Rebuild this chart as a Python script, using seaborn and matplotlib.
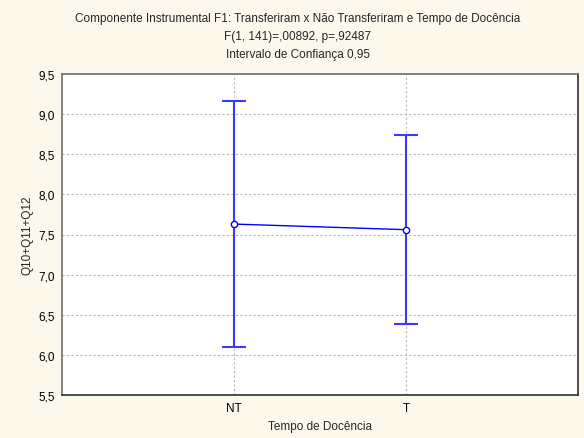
import matplotlib
matplotlib.use("Agg")
import matplotlib.pyplot as plt
import seaborn as sns
import pandas as pd
from matplotlib.ticker import FuncFormatter

# Group means and 95% confidence limits
groups = ["NT", "T"]
means = [7.63, 7.56]
ci_low = [6.10, 6.38]
ci_high = [9.16, 8.74]

y_ticks = [5.5, 6.0, 6.5, 7.0, 7.5, 8.0, 8.5, 9.0, 9.5]

title_lines = [
    "Componente Instrumental F1: Transferiram x Não Transferiram e Tempo de Docência",
    "F(1, 141)=,00892, p=,92487",
    "Intervalo de Confiança 0,95",
]

sns.set_style("white")
plt.rcParams["font.family"] = ["Liberation Sans", "DejaVu Sans"]

bg = "#fdf8ec"
blue = "#0000ff"
fs = 8.5

fig = plt.figure(figsize=(5.84, 4.39), dpi=100, facecolor=bg)
ax = fig.add_axes([62 / 584, 1 - 396 / 439, (578 - 62) / 584, (396 - 75) / 439])
ax.set_facecolor("white")

df = pd.DataFrame({"grupo": groups, "media": means})
x_pos = list(range(len(groups)))

# confidence intervals
yerr = [[m - lo for m, lo in zip(means, ci_low)],
        [hi - m for m, hi in zip(means, ci_high)]]
ax.errorbar(x_pos, means, yerr=yerr, fmt="none", ecolor="#3a3aff",
            elinewidth=1.5, capsize=8.5, capthick=1.5, zorder=3)

# line through the group means
sns.lineplot(data=df, x="grupo", y="media", ax=ax, color=blue, linewidth=1.0,
             marker="o", markersize=4.5, markerfacecolor="white",
             markeredgecolor=blue, markeredgewidth=1.0, zorder=4, sort=False)

ax.set_xlim(-1, 2)
ax.set_ylim(5.5, 9.5)
ax.set_xticks(x_pos)
ax.set_xticklabels(groups)
ax.set_yticks(y_ticks)
ax.yaxis.set_major_formatter(FuncFormatter(lambda v, p: f"{v:.1f}".replace(".", ",")))

ax.grid(True, color="#b8b8b8", linestyle=(0, (2, 2)), linewidth=0.8)
ax.set_axisbelow(True)
for s in ax.spines.values():
    s.set_color("#303030")
    s.set_linewidth(1.2)
ax.spines["top"].set_color("#707070")
ax.spines["left"].set_color("#707070")

ax.tick_params(axis="both", direction="in", length=3, width=1, color="#303030",
               labelsize=fs, labelcolor="black", pad=5)
ax.set_xlabel("Tempo de Docência", fontsize=fs)
ax.set_ylabel("Q10+Q11+Q12", fontsize=fs)
ax.xaxis.set_label_coords(0.5, (396 - 427) / 321, transform=ax.transAxes)
ax.yaxis.set_label_coords((28 - 62) / 516, 0.5, transform=ax.transAxes)
ax.xaxis.label.set_va("center")
ax.yaxis.label.set_va("center")

for t, y in zip(title_lines, [19, 37, 55]):
    fig.text(298 / 584, 1 - y / 439, t, ha="center", va="center", fontsize=fs)

fig.savefig("out.png", dpi=100, facecolor=bg)
